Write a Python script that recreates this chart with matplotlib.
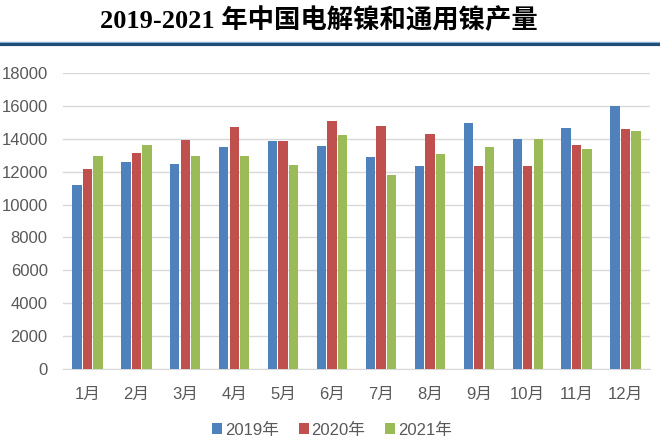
import numpy as np
from matplotlib import pyplot as plt
from matplotlib.lines import Line2D

plt.rcParams['font.family'] = ['Liberation Sans', 'Noto Sans CJK SC']

months = ['1月', '2月', '3月', '4月', '5月', '6月', '7月', '8月', '9月', '10月', '11月', '12月']
years = ['2019年', '2020年', '2021年']
y2019 = [11200, 12570, 12470, 13490, 13850, 13590, 12880, 12370, 14980, 13960, 14650, 16000]
y2020 = [12180, 13140, 13920, 14690, 13850, 15080, 14770, 14280, 12370, 12330, 13650, 14570]
y2021 = [12940, 13630, 12980, 12980, 12390, 14200, 11820, 13080, 13490, 14000, 13400, 14490]
colors = ['#4F81BD', '#C0504D', '#9BBB59']

fig = plt.figure(figsize=(6.6, 4.45), dpi=100)
ax = fig.add_axes([63 / 660, 1 - 369 / 445, 587 / 660, 296 / 445])

x = np.arange(len(months))
w = 0.19
for i, (vals, c, lab) in enumerate(zip([y2019, y2020, y2021], colors, years)):
    ax.bar(x + (i - 1) * 0.215, vals, width=w, color=c, label=lab, zorder=3)

ax.set_xlim(-0.5, 11.5)
ax.set_ylim(0, 18000)
ax.set_yticks(range(0, 18001, 2000))
ax.set_xticks(x)
ax.set_xticklabels(months)
ax.grid(axis='y', color='#D9D9D9', linewidth=1, zorder=0)
for s in ['top', 'right', 'left']:
    ax.spines[s].set_visible(False)
ax.spines['bottom'].set_color('#D9D9D9')
ax.tick_params(axis='both', length=0, colors='#595959', labelsize=12)
ax.tick_params(axis='y', pad=11)
ax.tick_params(axis='x', pad=13)

ax.legend(loc='center', bbox_to_anchor=(332 / 660, 1 - 430 / 445), bbox_transform=fig.transFigure,
          ncol=3, frameon=False, fontsize=12, labelcolor='#595959',
          handlelength=0.6, handleheight=0.6, handletextpad=0.15, columnspacing=1.2)

# 标题和下面的分隔线
fig.text(319 / 660, 1 - 20 / 445, '2019-2021 年中国电解镍和通用镍产量', ha='center', va='center',
         fontsize=19, fontweight='bold', family=['Liberation Serif', 'Noto Sans CJK SC'])

fig.add_artist(Line2D([0, 1], [1 - 44 / 445, 1 - 44 / 445], transform=fig.transFigure,
                      color='#1F4E79', linewidth=3))
fig.add_artist(Line2D([0, 1], [1 - 41.5 / 445, 1 - 41.5 / 445], transform=fig.transFigure,
                      color='#9DC3E6', linewidth=0.6))

fig.savefig('out.png', dpi=100)
